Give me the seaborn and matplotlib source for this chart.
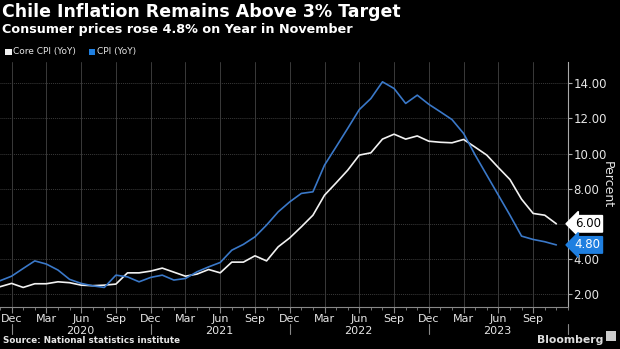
import matplotlib
matplotlib.use("Agg")
import matplotlib.pyplot as plt
import matplotlib.transforms as mtransforms
from matplotlib.ticker import FixedLocator, MultipleLocator
import seaborn as sns
import pandas as pd
import numpy as np

# Monthly data, Nov 2019 .. Nov 2023
months = pd.date_range("2019-11-01", "2023-11-01", freq="MS")
core_cpi = [2.42, 2.61, 2.38, 2.59, 2.59, 2.70, 2.65, 2.51, 2.48, 2.51, 2.57, 3.21,
            3.21, 3.31, 3.48, 3.25, 3.02, 3.14, 3.40, 3.21, 3.82, 3.82, 4.18, 3.89,
            4.69, 5.20, 5.83, 6.49, 7.63, 8.33, 9.05, 9.91, 10.04, 10.82, 11.10, 10.82,
            11.00, 10.70, 10.64, 10.61, 10.80, 10.36, 9.91, 9.20, 8.52, 7.40, 6.59, 6.49, 6.00]
cpi = [2.76, 3.02, 3.46, 3.89, 3.71, 3.37, 2.84, 2.61, 2.47, 2.38, 3.08, 2.98,
       2.70, 2.95, 3.08, 2.80, 2.89, 3.27, 3.55, 3.80, 4.50, 4.83, 5.26, 5.93,
       6.68, 7.25, 7.73, 7.82, 9.34, 10.38, 11.43, 12.50, 13.13, 14.08, 13.70, 12.85,
       13.32, 12.80, 12.37, 11.93, 11.14, 9.91, 8.77, 7.63, 6.49, 5.30, 5.11, 4.98, 4.80]
series_names = ["Core CPI (YoY)", "CPI (YoY)"]
yticks = [2, 4, 6, 8, 10, 12, 14]
years = ["2020", "2021", "2022", "2023"]

BG = "#000000"
GRID = "#3a3a3a"
TXT = "#e6e6e6"
WHITE_LINE = "#f2f2f2"
BLUE_LINE = "#3a78c8"
BLUE_BOX = "#1f7fe0"

idx = np.arange(len(months))
df = pd.DataFrame({"idx": np.concatenate([idx, idx]),
                   "value": core_cpi + cpi,
                   "series": [series_names[0]] * len(idx) + [series_names[1]] * len(idx)})

sns.set_style("dark")
plt.rcParams["font.family"] = ["DejaVu Sans"]
fig = plt.figure(figsize=(6.2, 3.49), dpi=100, facecolor=BG)
ax = fig.add_axes([0.0, 0.12, 0.916, 0.702], facecolor=BG)

sns.lineplot(data=df, x="idx", y="value", hue="series",
             palette={series_names[0]: WHITE_LINE, series_names[1]: BLUE_LINE},
             linewidth=1.2, ax=ax, legend=False)

ax.set_xlim(0, 49)
ax.set_ylim(1.26, 15.2)

# x ticks: quarterly labels, monthly minor ticks
major = [i for i in idx if months[i].month in (12, 3, 6, 9)]
ax.xaxis.set_major_locator(FixedLocator(major))
ax.set_xticklabels([months[i].strftime("%b") for i in major])
ax.xaxis.set_minor_locator(MultipleLocator(1))
ax.tick_params(axis="x", which="major", length=4, color="#888888", labelcolor=TXT,
               labelsize=8, pad=1, direction="out", bottom=True)
ax.tick_params(axis="x", which="minor", length=2, color="#888888", bottom=True)

ax.yaxis.tick_right()
ax.yaxis.set_label_position("right")
ax.set_yticks(yticks)
ax.set_yticklabels([f"{v:.2f}" for v in yticks])
ax.tick_params(axis="y", length=3, color="#aaaaaa", labelcolor=TXT, labelsize=8.5,
               pad=1, direction="out", right=True, left=False)
ax.set_ylabel("Percent", color=TXT, fontsize=9, rotation=270, labelpad=5)
ax.set_xlabel("")

ax.grid(True, which="major", axis="x", color=GRID, linewidth=0.7, linestyle="-")
ax.grid(True, which="major", axis="y", color=GRID, linewidth=0.7, linestyle=(0, (1, 1)))
for s in ["top", "left"]:
    ax.spines[s].set_visible(False)
ax.spines["right"].set_color("#aaaaaa")
ax.spines["right"].set_linewidth(0.8)
ax.spines["bottom"].set_color("#888888")
ax.spines["bottom"].set_linewidth(0.8)

# year labels and separators
trans = mtransforms.blended_transform_factory(ax.transData, ax.transAxes)
for k, y in enumerate(years):
    ax.text(6.9 + 12 * k, -0.076, y, transform=trans, ha="center", va="top",
            color=TXT, fontsize=8)
for xs in [1, 13, 25, 37, 49]:
    ax.plot([xs, xs], [-0.07, -0.108], transform=trans, color="#888888",
            linewidth=0.8, clip_on=False)

# last value boxes
transy = mtransforms.blended_transform_factory(ax.transAxes, ax.transData)
ax.text(1.012, core_cpi[-1], f"{core_cpi[-1]:.2f}", transform=transy, ha="left",
        va="center", color="black", fontsize=8.5,
        bbox=dict(boxstyle="larrow,pad=0.15", fc="white", ec="white"))
ax.text(1.012, cpi[-1], f"{cpi[-1]:.2f}", transform=transy, ha="left",
        va="center", color="white", fontsize=8.5,
        bbox=dict(boxstyle="larrow,pad=0.15", fc=BLUE_BOX, ec=BLUE_BOX))

# titles
fig.text(0.004, 0.99, "Chile Inflation Remains Above 3% Target", color="white",
         fontsize=12.5, fontweight="bold", ha="left", va="top")
fig.text(0.004, 0.935, "Consumer prices rose 4.8% on Year in November", color="white",
         fontsize=9.2, fontweight="bold", ha="left", va="top")

# legend
fig.patches.append(plt.Rectangle((0.008, 0.843), 0.011, 0.018, transform=fig.transFigure,
                                 fc=WHITE_LINE, ec="none"))
fig.text(0.021, 0.852, "Core CPI (YoY)", color=TXT, fontsize=6.5, ha="left", va="center")
fig.patches.append(plt.Rectangle((0.143, 0.843), 0.011, 0.018, transform=fig.transFigure,
                                 fc=BLUE_BOX, ec="none"))
fig.text(0.156, 0.852, "CPI (YoY)", color=TXT, fontsize=6.5, ha="left", va="center")

# footer
fig.text(0.005, 0.012, "Source: National statistics institute", color=TXT,
         fontsize=6.3, fontweight="bold", ha="left", va="bottom")
fig.text(0.973, 0.012, "Bloomberg", color="#dddddd", fontsize=7.8, fontweight="bold",
         ha="right", va="bottom")
fig.patches.append(plt.Rectangle((0.978, 0.022), 0.016, 0.03, transform=fig.transFigure,
                                 fc="#cccccc", ec="none"))

fig.savefig("out.png", dpi=100, facecolor=BG)
